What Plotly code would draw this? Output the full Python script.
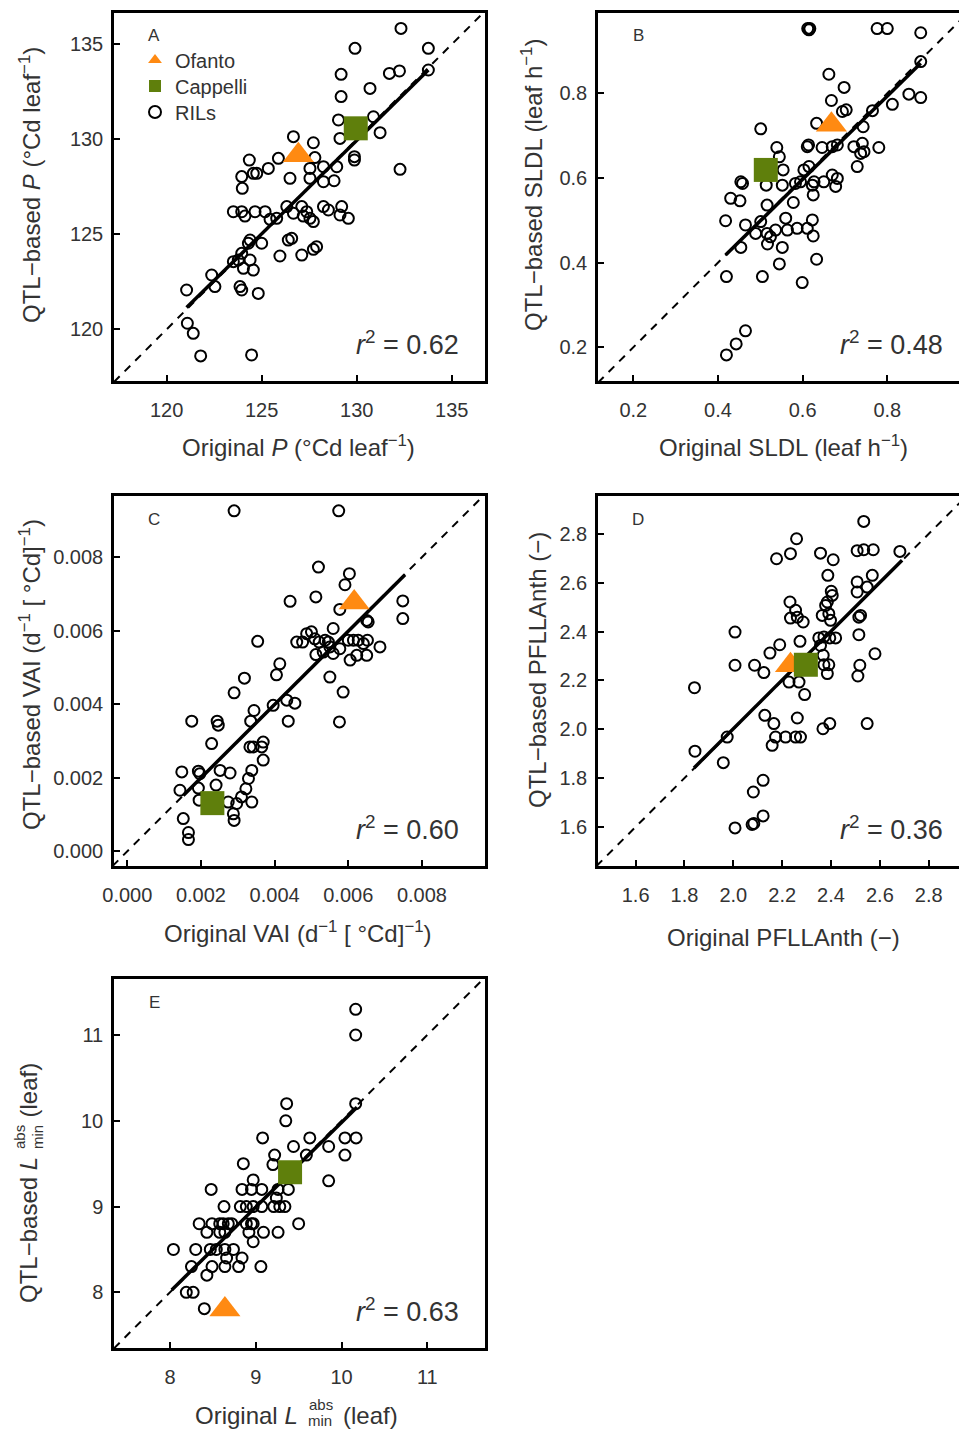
import plotly.graph_objects as go

# ---------------- data ----------------
# Panel A : P (°Cd leaf-1)
A_ril_x = [132.33, 129.91, 133.77, 129.18, 131.72, 132.25, 133.77, 130.70, 129.18, 129.04, 130.88, 131.23,
           129.12, 126.67, 127.72, 124.35, 125.88, 127.80, 129.88, 129.88, 132.28, 125.35, 123.95, 124.56,
           124.74, 123.98, 126.49, 127.54, 128.25, 128.95, 127.54, 128.25, 128.81, 123.51, 123.95, 124.12,
           124.65, 125.18, 125.44, 125.79, 126.32, 126.67, 127.11, 127.37, 127.54, 127.72, 128.25, 128.51,
           129.21, 129.12, 129.56, 127.19, 124.39, 124.30, 125.00, 126.40, 126.58, 127.72, 127.89, 125.96,
           127.11, 123.95, 123.51, 123.77, 124.39, 124.04, 124.56, 122.37, 122.54, 123.86, 123.95, 124.82,
           121.05, 121.09, 121.40, 121.79, 124.47]
A_ril_y = [135.84, 134.79, 134.79, 133.42, 133.47, 133.60, 133.65, 132.68, 132.25, 131.02, 131.19, 130.35,
           130.05, 130.14, 129.82, 128.91, 129.00, 129.04, 129.09, 128.91, 128.42, 128.47, 128.04, 128.21,
           128.21, 127.42, 127.95, 128.47, 128.56, 128.56, 127.95, 127.77, 127.82, 126.19, 126.19, 125.96,
           126.19, 126.19, 125.79, 125.84, 126.46, 126.11, 126.46, 126.19, 125.84, 125.67, 126.46, 126.28,
           126.46, 126.02, 125.84, 125.96, 124.70, 124.53, 124.53, 124.70, 124.79, 124.21, 124.35, 123.86,
           123.91, 124.00, 123.56, 123.65, 123.65, 123.21, 123.12, 122.86, 122.25, 122.25, 122.07, 121.89,
           122.07, 120.32, 119.79, 118.60, 118.65]
A_ofanto = [126.93, 129.16]
A_cappelli = [129.95, 130.58]
A_fit_x = [121.05, 133.77]
A_fit_coef = [0.9835, 2.09]          # slope, intercept
A_r2 = "0.62"

# Panel B : SLDL (leaf h-1)
B_ril_x = [0.612, 0.615, 0.617, 0.776, 0.800, 0.879, 0.879, 0.662, 0.698, 0.668, 0.851, 0.879, 0.812,
           0.765, 0.694, 0.703, 0.633, 0.501, 0.743, 0.611, 0.614, 0.646, 0.670, 0.682, 0.721, 0.741,
           0.737, 0.745, 0.780, 0.539, 0.545, 0.729, 0.554, 0.603, 0.615, 0.454, 0.458, 0.514, 0.552,
           0.583, 0.595, 0.623, 0.627, 0.650, 0.670, 0.682, 0.678, 0.430, 0.452, 0.516, 0.578, 0.625,
           0.418, 0.465, 0.489, 0.501, 0.516, 0.524, 0.536, 0.560, 0.564, 0.587, 0.611, 0.623, 0.625,
           0.517, 0.552, 0.454, 0.545, 0.633, 0.420, 0.505, 0.599, 0.465, 0.443, 0.420]
B_ril_y = [0.953, 0.950, 0.953, 0.953, 0.953, 0.943, 0.875, 0.845, 0.814, 0.783, 0.798, 0.790, 0.774,
           0.759, 0.757, 0.761, 0.729, 0.716, 0.721, 0.674, 0.678, 0.672, 0.674, 0.678, 0.674, 0.682,
           0.658, 0.662, 0.672, 0.672, 0.650, 0.627, 0.619, 0.619, 0.627, 0.591, 0.587, 0.583, 0.583,
           0.587, 0.591, 0.583, 0.591, 0.591, 0.607, 0.599, 0.580, 0.552, 0.546, 0.536, 0.542, 0.560,
           0.499, 0.489, 0.469, 0.497, 0.469, 0.461, 0.477, 0.505, 0.477, 0.481, 0.481, 0.501, 0.463,
           0.444, 0.436, 0.436, 0.397, 0.408, 0.367, 0.367, 0.353, 0.239, 0.208, 0.182]
B_ofanto = [0.668, 0.726]
B_cappelli = [0.513, 0.619]
B_fit_x = [0.418, 0.879]
B_fit_coef = [0.983, 0.0071]
B_r2 = "0.48"

# Panel C : VAI (d-1 [°Cd]-1)
C_ril_x = [0.00290, 0.00574, 0.00519, 0.00603, 0.00591, 0.00442, 0.00512, 0.00748, 0.00748, 0.00577,
           0.00650, 0.00654, 0.00559, 0.00460, 0.00476, 0.00487, 0.00500, 0.00509, 0.00521, 0.00537,
           0.00546, 0.00550, 0.00512, 0.00532, 0.00559, 0.00577, 0.00600, 0.00614, 0.00627, 0.00641,
           0.00652, 0.00686, 0.00650, 0.00605, 0.00623, 0.00550, 0.00354, 0.00414, 0.00405, 0.00318,
           0.00290, 0.00586, 0.00396, 0.00433, 0.00455, 0.00344, 0.00335, 0.00437, 0.00576, 0.00175,
           0.00244, 0.00247, 0.00229, 0.00333, 0.00342, 0.00365, 0.00369, 0.00369, 0.00148, 0.00193,
           0.00197, 0.00252, 0.00279, 0.00338, 0.00329, 0.00143, 0.00193, 0.00241, 0.00322, 0.00310,
           0.00297, 0.00338, 0.00274, 0.00195, 0.00288, 0.00290, 0.00152, 0.00166, 0.00166]
C_ril_y = [0.00926, 0.00926, 0.00773, 0.00755, 0.00725, 0.00680, 0.00692, 0.00681, 0.00633, 0.00658,
           0.00628, 0.00624, 0.00606, 0.00569, 0.00569, 0.00592, 0.00597, 0.00578, 0.00569, 0.00574,
           0.00569, 0.00556, 0.00535, 0.00542, 0.00538, 0.00551, 0.00574, 0.00574, 0.00574, 0.00565,
           0.00574, 0.00556, 0.00533, 0.00520, 0.00533, 0.00474, 0.00571, 0.00510, 0.00480, 0.00471,
           0.00431, 0.00433, 0.00397, 0.00411, 0.00403, 0.00383, 0.00354, 0.00354, 0.00352, 0.00354,
           0.00354, 0.00343, 0.00293, 0.00284, 0.00284, 0.00284, 0.00297, 0.00248, 0.00216, 0.00218,
           0.00211, 0.00220, 0.00213, 0.00220, 0.00198, 0.00166, 0.00172, 0.00180, 0.00170, 0.00148,
           0.00130, 0.00134, 0.00134, 0.00139, 0.00102, 0.00084, 0.00089, 0.00051, 0.00032]
C_ofanto = [0.00616, 0.00677]
C_cappelli = [0.00231, 0.00131]
C_fit_x = [0.00152, 0.00754]
C_fit_coef = [0.997, 0.0000045]
C_r2 = "0.60"

# Panel D : PFLLAnth (-)
D_ril_x = [2.534, 2.259, 2.177, 2.234, 2.357, 2.409, 2.507, 2.534, 2.573, 2.682, 2.387, 2.507, 2.569,
           2.548, 2.507, 2.401, 2.405, 2.385, 2.378, 2.232, 2.255, 2.234, 2.262, 2.286, 2.364, 2.391,
           2.398, 2.514, 2.521, 2.007, 2.514, 2.273, 2.190, 2.150, 2.350, 2.371, 2.395, 2.419, 2.357,
           2.368, 2.580, 2.371, 2.391, 2.385, 2.518, 2.510, 2.007, 2.087, 2.125, 2.228, 2.269, 2.292,
           1.841, 2.129, 2.166, 2.262, 2.367, 2.395, 2.548, 2.173, 2.214, 2.255, 2.275, 2.159, 1.975,
           1.843, 1.959, 2.122, 2.082, 2.007, 2.077, 2.084, 2.122]
D_ril_y = [2.851, 2.780, 2.698, 2.719, 2.721, 2.694, 2.731, 2.735, 2.735, 2.728, 2.630, 2.603, 2.630,
           2.582, 2.562, 2.565, 2.548, 2.521, 2.507, 2.521, 2.487, 2.455, 2.459, 2.439, 2.466, 2.473,
           2.446, 2.459, 2.466, 2.398, 2.387, 2.360, 2.346, 2.312, 2.374, 2.378, 2.374, 2.374, 2.343,
           2.303, 2.309, 2.264, 2.264, 2.228, 2.262, 2.218, 2.262, 2.262, 2.232, 2.193, 2.193, 2.142,
           2.170, 2.057, 2.023, 2.046, 2.002, 2.023, 2.023, 1.968, 1.968, 1.968, 1.968, 1.934, 1.968,
           1.910, 1.863, 1.791, 1.743, 1.596, 1.610, 1.614, 1.645]
D_ofanto = [2.234, 2.262]
D_cappelli = [2.297, 2.264]
D_fit_x = [1.839, 2.691]
D_fit_coef = [0.998, 0.006]
D_r2 = "0.36"

# Panel E : L_min^abs (leaf)
E_ril_x = [10.165, 10.165, 9.36, 9.35, 10.165, 9.08, 9.63, 9.44, 9.85, 10.04, 10.17, 10.04, 9.59, 9.22,
           8.855, 9.20, 9.85, 8.48, 8.97, 8.84, 8.95, 9.07, 9.26, 9.38, 8.63, 8.82, 8.89, 8.97, 9.07, 9.21,
           9.28, 9.34, 9.24, 8.34, 8.49, 8.58, 8.62, 8.68, 8.72, 8.89, 8.95, 8.97, 8.92, 9.09, 9.26, 9.50,
           8.43, 8.58, 8.64, 8.97, 8.04, 8.30, 8.47, 8.54, 8.64, 8.74, 8.84, 8.66, 8.25, 8.49, 8.64, 8.80,
           9.06, 8.43, 8.19, 8.27, 8.40]
E_ril_y = [11.30, 11.00, 10.20, 10.00, 10.20, 9.80, 9.80, 9.70, 9.70, 9.80, 9.80, 9.60, 9.60, 9.60,
           9.50, 9.49, 9.30, 9.20, 9.31, 9.20, 9.20, 9.20, 9.20, 9.20, 9.00, 9.00, 9.00, 9.00, 9.00, 9.00,
           9.00, 9.00, 9.10, 8.80, 8.80, 8.80, 8.80, 8.80, 8.80, 8.80, 8.80, 8.80, 8.70, 8.70, 8.70, 8.80,
           8.70, 8.70, 8.70, 8.59, 8.50, 8.50, 8.50, 8.50, 8.50, 8.50, 8.40, 8.40, 8.30, 8.30, 8.30, 8.30,
           8.30, 8.20, 8.00, 8.00, 7.81]
E_ofanto = [8.64, 7.80]
E_cappelli = [9.40, 9.40]
E_fit_x = [8.02, 10.18]
E_fit_coef = [0.986, 0.12]
E_r2 = "0.63"

# tick values
A_ticks = [120, 125, 130, 135]
B_ticks = [0.2, 0.4, 0.6, 0.8]
C_ticks = [0.000, 0.002, 0.004, 0.006, 0.008]
D_ticks = [1.6, 1.8, 2.0, 2.2, 2.4, 2.6, 2.8]
E_ticks = [8, 9, 10, 11]

# ---------------- layout helpers ----------------
W, H = 959, 1431
FONT = "Liberation Sans, Arial, sans-serif"
TXT = "#333333"
ORANGE = "#FF8A12"
GREEN = "#5F7F0C"
TICK_SIZE = 20
TITLE_SIZE = 24


def fx(px):
    return px / W


def fy(py):
    return 1 - py / H


panels = [
    dict(name="A", ril=(A_ril_x, A_ril_y), of=A_ofanto, ca=A_cappelli, fx_=A_fit_x, fc=A_fit_coef, r2=A_r2,
         ticks=A_ticks, fmt="d", xdom=(114, 485), ydom=(13, 381),
         xr=[117.23, 136.75], yr=[117.28, 136.65], right=True),
    dict(name="B", ril=(B_ril_x, B_ril_y), of=B_ofanto, ca=B_cappelli, fx_=B_fit_x, fc=B_fit_coef, r2=B_r2,
         ticks=B_ticks, fmt=".1f", xdom=(598, 959), ydom=(13, 381),
         xr=[0.1166, 0.9694], yr=[0.1204, 0.9897], right=False),
    dict(name="C", ril=(C_ril_x, C_ril_y), of=C_ofanto, ca=C_cappelli, fx_=C_fit_x, fc=C_fit_coef, r2=C_r2,
         ticks=C_ticks, fmt=".3f", xdom=(114, 485), ydom=(496, 866),
         xr=[-0.000361, 0.009712], yr=[-0.0004, 0.009664], right=True),
    dict(name="D", ril=(D_ril_x, D_ril_y), of=D_ofanto, ca=D_cappelli, fx_=D_fit_x, fc=D_fit_coef, r2=D_r2,
         ticks=D_ticks, fmt=".1f", xdom=(598, 959), ydom=(496, 866),
         xr=[1.446, 2.924], yr=[1.440, 2.955], right=False),
    dict(name="E", ril=(E_ril_x, E_ril_y), of=E_ofanto, ca=E_cappelli, fx_=E_fit_x, fc=E_fit_coef, r2=E_r2,
         ticks=E_ticks, fmt="d", xdom=(114, 485), ydom=(979, 1348),
         xr=[7.347, 11.673], yr=[7.351, 11.653], right=True),
]

fig = go.Figure()
layout = dict(width=W, height=H, margin=dict(l=0, r=0, t=0, b=0, autoexpand=False),
              paper_bgcolor="white", plot_bgcolor="white",
              font=dict(family=FONT, color=TXT, size=TICK_SIZE), showlegend=True)
annotations = []

for i, p in enumerate(panels):
    n = "" if i == 0 else str(i + 1)
    xa, ya = "x" + n, "y" + n
    lo = min(p["xr"][0], p["yr"][0])
    hi = max(p["xr"][1], p["yr"][1])
    first = (i == 0)
    # 1:1 dashed line
    fig.add_trace(go.Scatter(x=[lo, hi], y=[lo, hi], mode="lines", xaxis=xa, yaxis=ya,
                             line=dict(color="black", width=2, dash="8px,7px"),
                             showlegend=False, hoverinfo="skip"))
    # RILs
    fig.add_trace(go.Scatter(x=p["ril"][0], y=p["ril"][1], mode="markers", xaxis=xa, yaxis=ya,
                             name="RILs", showlegend=first, legend="legend3",
                             marker=dict(symbol="circle-open", size=11, color="black",
                                         line=dict(width=2, color="black"))))
    # regression line
    sl, ic = p["fc"]
    fy_vals = [sl * v + ic for v in p["fx_"]]
    fig.add_trace(go.Scatter(x=p["fx_"], y=fy_vals, mode="lines", xaxis=xa, yaxis=ya,
                             line=dict(color="black", width=3.5), showlegend=False, hoverinfo="skip"))
    # Ofanto
    fig.add_trace(go.Scatter(x=[p["of"][0]], y=[p["of"][1]], mode="markers", xaxis=xa, yaxis=ya,
                             name="Ofanto", showlegend=first, legend="legend",
                             marker=dict(symbol="triangle-up", size=27, color=ORANGE, line=dict(width=0))))
    # Cappelli
    fig.add_trace(go.Scatter(x=[p["ca"][0]], y=[p["ca"][1]], mode="markers", xaxis=xa, yaxis=ya,
                             name="Cappelli", showlegend=first, legend="legend2",
                             marker=dict(symbol="square", size=24, color=GREEN, line=dict(width=0))))

    common = dict(showline=True, linewidth=2.5, linecolor="black", ticks="inside", ticklen=6,
                  tickwidth=2, tickcolor="black", showgrid=False, zeroline=False, automargin=False,
                  tickvals=p["ticks"], tickfont=dict(size=TICK_SIZE, color=TXT, family=FONT))
    layout["xaxis" + n] = dict(common, domain=[fx(p["xdom"][0]), fx(p["xdom"][1])], range=p["xr"],
                               anchor=ya, mirror=True, ticklabelstandoff=9,
                               tickformat=p["fmt"] if p["fmt"] != "d" else None)
    layout["yaxis" + n] = dict(common, domain=[fy(p["ydom"][1]), fy(p["ydom"][0])], range=p["yr"],
                               anchor=xa, mirror=p["right"], ticklabelstandoff=4,
                               tickformat=p["fmt"] if p["fmt"] != "d" else None)

    # panel letter
    annotations.append(dict(text=p["name"], x=fx(p["xdom"][0] + 40), y=fy(p["ydom"][0] + 23),
                            xref="paper", yref="paper", showarrow=False, xanchor="center",
                            yanchor="middle", font=dict(size=17, color=TXT)))
    # r^2
    annotations.append(dict(text="<i>r</i><sup>2</sup> = " + p["r2"], x=fx(p["xdom"][0] + 347),
                            y=fy(p["ydom"][1] - 38), xref="paper", yref="paper", showarrow=False,
                            xanchor="right", yanchor="middle", font=dict(size=27, color=TXT)))


def title(text, xpx, ypx, rot=False, size=TITLE_SIZE, xanchor="center", yanchor="middle"):
    annotations.append(dict(text=text, x=fx(xpx), y=fy(ypx), xref="paper", yref="paper",
                            showarrow=False, textangle=-90 if rot else 0,
                            xanchor=xanchor, yanchor=yanchor, font=dict(size=size, color=TXT)))


M = "\u2212"
title("Original <i>P</i> (°Cd leaf<sup>" + M + "1</sup>)", 298, 446)
title("QTL" + M + "based <i>P</i> (°Cd leaf<sup>" + M + "1</sup>)", 30, 185, rot=True)
title("Original SLDL (leaf h<sup>" + M + "1</sup>)", 783, 446)
title("QTL" + M + "based SLDL (leaf h<sup>" + M + "1</sup>)", 532, 185, rot=True)
title("Original VAI (d<sup>" + M + "1</sup> [ °Cd]<sup>" + M + "1</sup>)", 298, 932)
title("QTL" + M + "based VAI (d<sup>" + M + "1</sup> [ °Cd]<sup>" + M + "1</sup>)", 30, 675, rot=True)
title("Original PFLLAnth (" + M + ")", 783, 938)
title("QTL" + M + "based PFLLAnth (" + M + ")", 537, 670, rot=True)
# E titles with stacked super/subscripts
title("Original <i>L</i>", 300, 1415, xanchor="right")
title("abs", 307, 1404, size=15, xanchor="left")
title("min", 306, 1420, size=15, xanchor="left")
title("(leaf)", 341, 1415, xanchor="left")
title("QTL" + M + "based <i>L</i>", 28, 1155, rot=True, yanchor="top")
title("abs", 19, 1151, rot=True, size=15, yanchor="bottom")
title("min", 37, 1151, rot=True, size=15, yanchor="bottom")
title("(leaf)", 28, 1120, rot=True, yanchor="bottom")

layout["annotations"] = annotations
leg = dict(xanchor="left", yanchor="middle", bgcolor="rgba(0,0,0,0)", borderwidth=0,
           font=dict(size=20, color=TXT, family=FONT), itemsizing="constant")
layout["legend"] = dict(leg, x=fx(135), y=fy(60))
layout["legend2"] = dict(leg, x=fx(135), y=fy(86))
layout["legend3"] = dict(leg, x=fx(135), y=fy(112))

fig.update_layout(**layout)
fig.write_html("out.html")
